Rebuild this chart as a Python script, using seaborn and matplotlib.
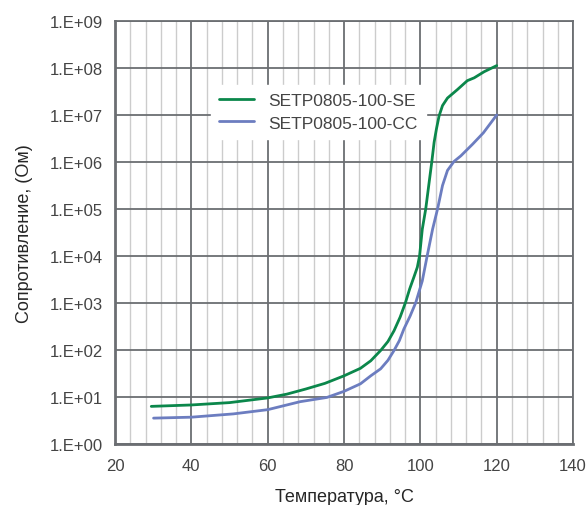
import matplotlib
matplotlib.use("Agg")
import matplotlib.pyplot as plt
from matplotlib.ticker import MultipleLocator, FixedLocator
import numpy as np
import pandas as pd
import seaborn as sns

sns.set_style("white")
plt.rcParams['font.family'] = ['Liberation Sans', 'DejaVu Sans']

# data (temperature in degC, resistance as log10 Ohm)
temp_se = [29.5, 40, 50, 60, 65, 70, 75, 80, 84.3, 87, 89.6, 91.5, 93.1, 94.7,
           96.1, 97.2, 98.3, 99.2, 99.8, 100.5, 101.4, 102.3, 103.0, 103.6,
           104.2, 104.9, 105.8, 107.1, 109.7, 112.3, 114.1, 116.7, 120]
log_r_se = [0.80, 0.83, 0.88, 0.98, 1.06, 1.17, 1.29, 1.45, 1.61, 1.77, 1.99, 2.18,
            2.41, 2.70, 3.01, 3.30, 3.55, 3.76, 4.01, 4.57, 5.00, 5.57, 6.01, 6.42,
            6.70, 6.98, 7.20, 7.36, 7.54, 7.73, 7.79, 7.92, 8.05]

temp_cc = [30.1, 40, 51, 60, 68.5, 75.5, 80, 84.3, 87, 89.6, 91.5, 93.1, 94.5,
           95.7, 97.3, 98.8, 100.5, 101.8, 103.2, 104.5, 105.8, 107.1, 108.8,
           110.6, 113.7, 116.5, 120]
log_r_cc = [0.55, 0.57, 0.64, 0.73, 0.90, 0.99, 1.12, 1.28, 1.45, 1.60, 1.78, 1.99,
            2.20, 2.45, 2.72, 3.01, 3.47, 4.01, 4.57, 5.00, 5.50, 5.82, 6.01, 6.13,
            6.38, 6.62, 7.00]

series_names = ["SETP0805-100-SE", "SETP0805-100-CC"]
colors = ["#0b874b", "#6c7dc0"]
y_tick_labels = ["1.E+00", "1.E+01", "1.E+02", "1.E+03", "1.E+04", "1.E+05",
                 "1.E+06", "1.E+07", "1.E+08", "1.E+09"]

df = pd.concat([
    pd.DataFrame({"temp": temp_se, "res": np.power(10.0, log_r_se),
                  "series": series_names[0]}),
    pd.DataFrame({"temp": temp_cc, "res": np.power(10.0, log_r_cc),
                  "series": series_names[1]}),
])

fig = plt.figure(figsize=(5.88, 5.06), dpi=100)
ax = fig.add_axes([0.1956, 0.1206, 0.779, 0.836])

sns.lineplot(data=df, x="temp", y="res", hue="series", palette=colors,
             sort=False, linewidth=2, ax=ax, zorder=3)

ax.set_yscale("log")
ax.set_xlim(20, 140)
ax.set_ylim(1, 1e9)
ax.xaxis.set_major_locator(MultipleLocator(20))
ax.xaxis.set_minor_locator(MultipleLocator(4))
ax.yaxis.set_major_locator(FixedLocator([10.0 ** i for i in range(10)]))
ax.yaxis.set_minor_locator(FixedLocator([]))
ax.set_yticklabels(y_tick_labels)

ax.grid(which="major", color="#6b6e72", linewidth=1.3)
ax.grid(which="minor", axis="x", color="#cccccc", linewidth=1.0)
ax.set_axisbelow(True)

for side in ["left", "bottom", "right", "top"]:
    ax.spines[side].set_color("#6b6e72")
    ax.spines[side].set_linewidth(1.3)
ax.spines["left"].set_linewidth(2)
ax.spines["bottom"].set_linewidth(2)

ax.tick_params(axis="both", which="both", length=0, labelsize=12,
               labelcolor="#444444")
ax.tick_params(axis="x", pad=10)
ax.tick_params(axis="y", pad=9)

ax.set_xlabel("Температура, °C", fontsize=13, labelpad=11)
ax.set_ylabel("Сопротивление, (Ом)", fontsize=13, labelpad=12)

leg = ax.legend(loc="upper left", bbox_to_anchor=(0.19, 0.87), frameon=True,
                fontsize=12.5, handlelength=2.0, borderpad=0.5,
                labelspacing=0.4, fancybox=False)
leg.get_frame().set_edgecolor("white")
leg.get_frame().set_facecolor("white")
leg.get_frame().set_alpha(1)
for t in leg.get_texts():
    t.set_color("#444444")

fig.savefig("out.png", dpi=100)
